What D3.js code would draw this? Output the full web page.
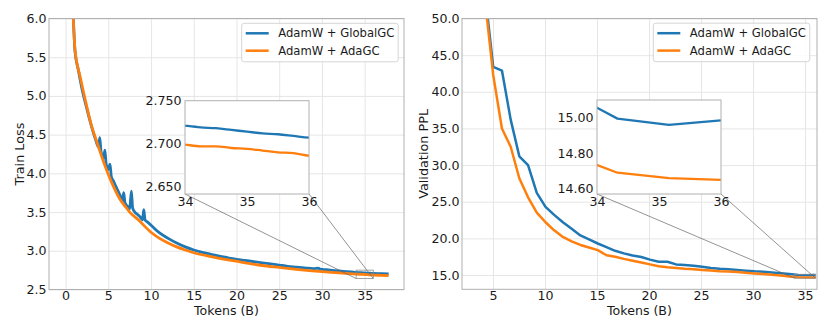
<!DOCTYPE html>
<html>
<head>
<meta charset="utf-8">
<script src="https://cdn.jsdelivr.net/npm/d3@7"></script>
<style>
  body { margin: 0; background: #fff; }
  text { font-family: "DejaVu Sans", sans-serif; fill: #1a1a1a; }
</style>
</head>
<body>
<script>
const seriesNames = ['AdamW + GlobalGC', 'AdamW + AdaGC'];
const seriesColors = ['#1f77b4', '#ff7f0e'];

// train loss
const trainTokensGlobal = [0.8, 0.9, 1.1, 1.5, 2.0, 2.5, 3.0, 3.5, 3.85, 4.0, 4.15, 4.45, 4.6, 4.75, 5.0, 5.2, 5.35, 5.6, 5.85, 6.1, 6.4, 6.65, 6.8, 6.95, 7.2, 7.5, 7.7, 7.85, 8.1, 8.4, 8.7, 9.0, 9.15, 9.3, 9.6, 10.1, 11, 12, 13, 14, 15, 16, 17, 18, 19, 20, 21, 22, 23, 24, 25, 26, 27, 28, 29, 29.6, 29.8, 30.5, 31.5, 32.5, 33.5, 34, 34.25, 34.5, 34.75, 35, 35.25, 35.5, 35.75, 36, 37, 37.8];
const trainLossGlobal = [6.2, 6.0, 5.58, 5.33, 5.05, 4.83, 4.62, 4.44, 4.34, 4.46, 4.28, 4.20, 4.30, 4.12, 4.05, 4.12, 3.96, 3.90, 3.84, 3.78, 3.71, 3.64, 3.75, 3.62, 3.58, 3.54, 3.77, 3.55, 3.50, 3.47, 3.44, 3.40, 3.53, 3.40, 3.37, 3.32, 3.23, 3.16, 3.10, 3.05, 3.01, 2.98, 2.955, 2.93, 2.91, 2.89, 2.875, 2.86, 2.845, 2.83, 2.815, 2.80, 2.79, 2.78, 2.77, 2.775, 2.762, 2.755, 2.745, 2.735, 2.726, 2.721, 2.719, 2.718, 2.716, 2.714, 2.712, 2.711, 2.709, 2.707, 2.704, 2.70];
const trainTokensAda = [0.8, 0.9, 1.1, 1.7, 2.3, 3.0, 3.8, 4.6, 5.4, 6.4, 7.0, 7.5, 8.5, 10.1, 11, 12, 13, 14, 15, 17, 20, 23, 25, 27, 30, 32, 34, 34.25, 34.5, 34.75, 35, 35.25, 35.5, 35.75, 36, 37, 37.8];
const trainLossAda = [6.2, 6.0, 5.6, 5.25, 4.95, 4.63, 4.36, 4.10, 3.88, 3.66, 3.57, 3.50, 3.40, 3.23, 3.16, 3.10, 3.05, 3.01, 2.975, 2.925, 2.865, 2.81, 2.785, 2.76, 2.73, 2.715, 2.699, 2.697, 2.697, 2.695, 2.694, 2.692, 2.690, 2.689, 2.686, 2.683, 2.68];

// validation ppl
const valTokens = [4.19, 5.02, 5.86, 6.70, 7.53, 8.37, 9.21, 10.05, 10.88, 11.72, 12.56, 13.40, 14.23, 15.07, 15.91, 16.74, 17.58, 18.42, 19.26, 20.09, 20.93, 21.77, 22.60, 23.44, 24.28, 25.12, 25.95, 26.79, 27.63, 28.47, 29.30, 30.14, 30.98, 31.81, 32.65, 33.49, 34.33, 35.16, 36.00];
const valPplGlobal = [54, 43.4, 42.9, 36.2, 31.2, 30.0, 26.2, 24.3, 23.2, 22.2, 21.3, 20.4, 19.85, 19.3, 18.8, 18.3, 17.95, 17.65, 17.45, 17.1, 16.8, 16.8, 16.45, 16.35, 16.25, 16.12, 15.97, 15.85, 15.77, 15.68, 15.58, 15.5, 15.45, 15.35, 15.25, 15.15, 14.995, 14.96, 14.985];
const valPplAda = [53, 42.3, 35.0, 32.5, 28.2, 25.6, 23.5, 22.2, 21.1, 20.2, 19.6, 19.1, 18.75, 18.4, 17.7, 17.5, 17.2, 16.95, 16.7, 16.45, 16.2, 16.05, 15.95, 15.85, 15.78, 15.68, 15.6, 15.52, 15.48, 15.4, 15.3, 15.22, 15.15, 15.05, 14.92, 14.8, 14.69, 14.66, 14.65];

// ticks
const trainXTicks = [0, 5, 10, 15, 20, 25, 30, 35];
const trainYTicks = [2.5, 3.0, 3.5, 4.0, 4.5, 5.0, 5.5, 6.0];
const valXTicks = [5, 10, 15, 20, 25, 30, 35];
const valYTicks = [15, 20, 25, 30, 35, 40, 45, 50];
const insetXTicks = [34, 35, 36];
const insetTrainYTicks = [2.65, 2.70, 2.75];
const insetValYTicks = [14.6, 14.8, 15.0];

const width = 830;
const height = 332;

const svg = d3.select('body').append('svg')
  .attr('width', width)
  .attr('height', height);

let clipCount = 0;

function addClip(x0, y0, x1, y1) {
  const id = 'clip' + (clipCount++);
  svg.append('clipPath').attr('id', id)
    .append('rect')
    .attr('x', x0).attr('y', y0)
    .attr('width', x1 - x0).attr('height', y1 - y0);
  return `url(#${id})`;
}

function drawPanel(opt) {
  const b = opt.box;
  const x = d3.scaleLinear().domain(opt.xDomain).range([b.x0, b.x1]);
  const y = d3.scaleLinear().domain(opt.yDomain).range([b.y1, b.y0]);
  const g = svg.append('g');

  // grid
  g.append('g')
    .attr('transform', `translate(0,${b.y1})`)
    .call(d3.axisBottom(x).tickValues(opt.xTicks).tickSize(-(b.y1 - b.y0)).tickFormat(''))
    .call(s => s.select('.domain').remove())
    .selectAll('line').attr('stroke', '#e3e3e3').attr('stroke-width', 0.9);
  g.append('g')
    .attr('transform', `translate(${b.x0},0)`)
    .call(d3.axisLeft(y).tickValues(opt.yTicks).tickSize(-(b.x1 - b.x0)).tickFormat(''))
    .call(s => s.select('.domain').remove())
    .selectAll('line').attr('stroke', '#e3e3e3').attr('stroke-width', 0.9);

  // tick labels
  g.append('g')
    .attr('transform', `translate(0,${b.y1})`)
    .call(d3.axisBottom(x).tickValues(opt.xTicks).tickSize(0).tickPadding(2).tickFormat(d3.format('d')))
    .call(s => s.select('.domain').remove())
    .selectAll('text').attr('font-size', 12.6).attr('font-family', 'DejaVu Sans').attr('fill', '#1a1a1a');
  g.append('g')
    .attr('transform', `translate(${b.x0},0)`)
    .call(d3.axisLeft(y).tickValues(opt.yTicks).tickSize(0).tickPadding(2.5).tickFormat(d3.format('.1f')))
    .call(s => s.select('.domain').remove())
    .selectAll('text').attr('font-size', 12.6).attr('font-family', 'DejaVu Sans').attr('fill', '#1a1a1a');

  // axis titles
  g.append('text')
    .attr('x', (b.x0 + b.x1) / 2)
    .attr('y', 315)
    .attr('text-anchor', 'middle')
    .attr('font-size', 12.6)
    .text('Tokens (B)');
  g.append('text')
    .attr('transform', `translate(${opt.yLabelX},${(b.y0 + b.y1) / 2}) rotate(-90)`)
    .attr('text-anchor', 'middle')
    .attr('font-size', 12.8)
    .text(opt.yLabel);

  const clip = addClip(b.x0, b.y0, b.x1, b.y1);
  const line = d3.line()
    .x(d => x(d[0]))
    .y(d => y(d[1]))
    .curve(opt.curve);

  g.append('g').attr('clip-path', clip)
    .selectAll('path')
    .data(opt.series)
    .join('path')
    .attr('d', d => line(d3.zip(d.tokens, d.values)))
    .attr('fill', 'none')
    .attr('stroke', (d, i) => seriesColors[i])
    .attr('stroke-width', opt.lineWidth)
    .attr('stroke-linejoin', 'round');

  // frame
  g.append('rect')
    .attr('x', b.x0).attr('y', b.y0)
    .attr('width', b.x1 - b.x0).attr('height', b.y1 - b.y0)
    .attr('fill', 'none')
    .attr('stroke', '#b0b0b0')
    .attr('stroke-width', 1);

  // zoom box on the main axes + connectors
  const ins = opt.inset;
  g.append('rect')
    .attr('x', x(ins.xDomain[0]))
    .attr('y', y(ins.yDomain[1]))
    .attr('width', x(ins.xDomain[1]) - x(ins.xDomain[0]))
    .attr('height', y(ins.yDomain[0]) - y(ins.yDomain[1]))
    .attr('fill', 'none')
    .attr('stroke', '#8c8c8c')
    .attr('stroke-width', 0.8);

  const ib = ins.box;
  g.append('line')
    .attr('x1', ib.x0).attr('y1', ib.y1)
    .attr('x2', x(ins.xDomain[0])).attr('y2', y(ins.yDomain[0]))
    .attr('stroke', '#666').attr('stroke-width', 0.7);
  g.append('line')
    .attr('x1', ib.x1).attr('y1', ib.y1)
    .attr('x2', x(ins.xDomain[1])).attr('y2', y(ins.yDomain[0]))
    .attr('stroke', '#666').attr('stroke-width', 0.7);

  // inset
  const xi = d3.scaleLinear().domain(ins.xDomain).range([ib.x0, ib.x1]);
  const yi = d3.scaleLinear().domain(ins.yDomain).range([ib.y1, ib.y0]);
  g.append('rect')
    .attr('x', ib.x0).attr('y', ib.y0)
    .attr('width', ib.x1 - ib.x0).attr('height', ib.y1 - ib.y0)
    .attr('fill', '#fff');

  const lineI = d3.line()
    .x(d => xi(d[0]))
    .y(d => yi(d[1]))
    .curve(opt.curve);
  const clipI = addClip(ib.x0, ib.y0, ib.x1, ib.y1);
  g.append('g').attr('clip-path', clipI)
    .selectAll('path')
    .data(opt.series)
    .join('path')
    .attr('d', d => lineI(d3.zip(d.tokens, d.values)))
    .attr('fill', 'none')
    .attr('stroke', (d, i) => seriesColors[i])
    .attr('stroke-width', 2.3)
    .attr('stroke-linejoin', 'round');

  g.append('rect')
    .attr('x', ib.x0).attr('y', ib.y0)
    .attr('width', ib.x1 - ib.x0).attr('height', ib.y1 - ib.y0)
    .attr('fill', 'none')
    .attr('stroke', '#b0b0b0')
    .attr('stroke-width', 1);

  g.append('g')
    .attr('transform', `translate(0,${ib.y1})`)
    .call(d3.axisBottom(xi).tickValues(insetXTicks).tickSize(0).tickPadding(3.5).tickFormat(d3.format('d')))
    .call(s => s.select('.domain').remove())
    .selectAll('text').attr('font-size', 12.6).attr('font-family', 'DejaVu Sans').attr('fill', '#1a1a1a');
  g.append('g')
    .attr('transform', `translate(${ib.x0},0)`)
    .call(d3.axisLeft(yi).tickValues(ins.yTicks).tickSize(0).tickPadding(3.5).tickFormat(d3.format(ins.yFormat)))
    .call(s => s.select('.domain').remove())
    .selectAll('text').attr('font-size', 12.6).attr('font-family', 'DejaVu Sans').attr('fill', '#1a1a1a');

  // legend
  const lg = opt.legend;
  const leg = g.append('g').attr('transform', `translate(${lg.x},${lg.y})`);
  leg.append('rect')
    .attr('width', 156.5).attr('height', 38.5)
    .attr('rx', 2.5)
    .attr('fill', '#fff').attr('fill-opacity', 0.85)
    .attr('stroke', '#d0d0d0').attr('stroke-width', 0.9);
  const item = leg.selectAll('.item')
    .data(seriesNames)
    .join('g')
    .attr('class', 'item')
    .attr('transform', (d, i) => `translate(0,${10 + i * 17.4})`);
  item.append('line')
    .attr('x1', 4).attr('x2', 27)
    .attr('stroke', (d, i) => seriesColors[i])
    .attr('stroke-width', 2.5);
  item.append('text')
    .attr('x', 36.5)
    .attr('dy', '0.36em')
    .attr('font-size', 11.6)
    .text(d => d);
}

drawPanel({
  box: { x0: 49, x1: 404, y0: 18.5, y1: 289.5 },
  xDomain: [-1.94, 39.6],
  yDomain: [2.5, 6.0],
  xTicks: trainXTicks,
  yTicks: trainYTicks,
  yLabel: 'Train Loss',
  yLabelX: 24,
  curve: d3.curveMonotoneX,
  lineWidth: 2.8,
  series: [
    { tokens: trainTokensGlobal, values: trainLossGlobal },
    { tokens: trainTokensAda, values: trainLossAda }
  ],
  inset: {
    box: { x0: 185, x1: 309, y0: 100.7, y1: 194 },
    xDomain: [34, 36],
    yDomain: [2.6415, 2.75],
    yTicks: insetTrainYTicks,
    yFormat: '.3f'
  },
  legend: { x: 241.7, y: 23.3 }
});

drawPanel({
  box: { x0: 462, x1: 817, y0: 18.5, y1: 289.3 },
  xDomain: [2.02, 36.15],
  yDomain: [13.05, 50],
  xTicks: valXTicks,
  yTicks: valYTicks,
  yLabel: 'Validation PPL',
  yLabelX: 428,
  curve: d3.curveLinear,
  lineWidth: 2.5,
  series: [
    { tokens: valTokens, values: valPplGlobal },
    { tokens: valTokens, values: valPplAda }
  ],
  inset: {
    box: { x0: 597, x1: 721, y0: 100, y1: 194 },
    xDomain: [34, 36],
    yDomain: [14.57, 15.10],
    yTicks: insetValYTicks,
    yFormat: '.2f'
  },
  legend: { x: 653.3, y: 23.2 }
});
</script>
</body>
</html>
